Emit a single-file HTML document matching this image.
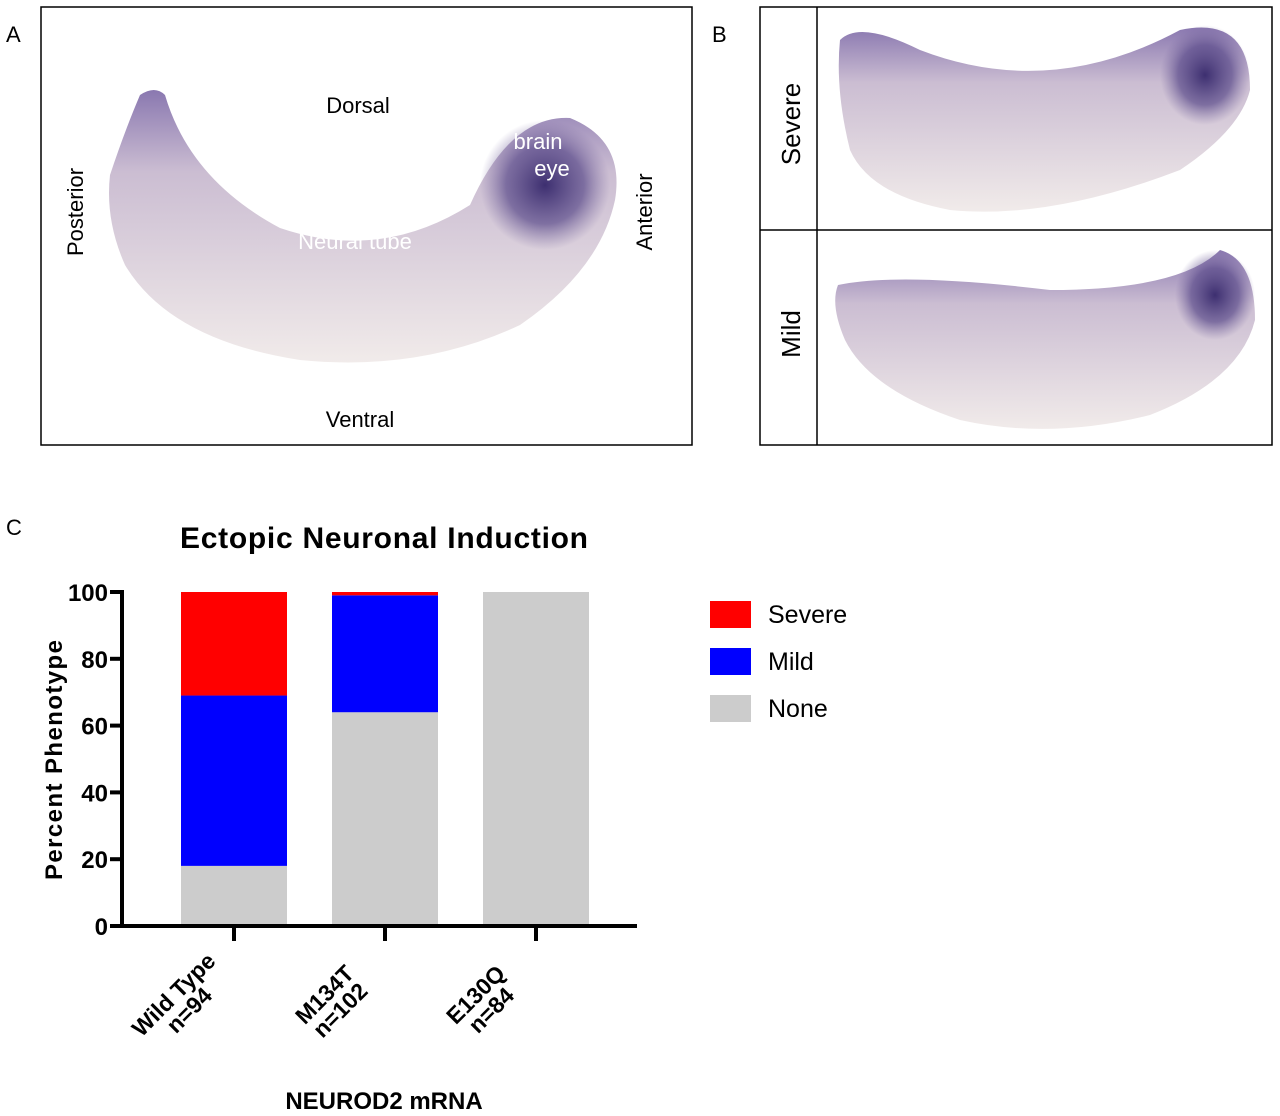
<!DOCTYPE html>
<html><head><meta charset="utf-8"><style>
body{margin:0;background:#fff;}
svg{display:block;font-family:"Liberation Sans",Arial,sans-serif;}
</style></head><body>
<svg width="1280" height="1116" viewBox="0 0 1280 1116">
<defs>
<linearGradient id="emb" x1="0" y1="0" x2="0" y2="1">
<stop offset="0" stop-color="#8a78b0"/><stop offset="0.3" stop-color="#cbbdd2"/><stop offset="1" stop-color="#f1ebea"/>
</linearGradient>
<radialGradient id="head" cx="0.5" cy="0.5" r="0.5">
<stop offset="0" stop-color="#3d2f70"/><stop offset="0.6" stop-color="#5a4a8a" stop-opacity="0.7"/><stop offset="1" stop-color="#7a6aa0" stop-opacity="0"/>
</radialGradient>
</defs>
<!-- Panel A -->
<text x="6" y="42" font-size="22">A</text>
<rect x="41" y="7" width="651" height="438" fill="none" stroke="#000" stroke-width="1.5"/>
<path d="M110 175 Q125 130 140 95 Q155 85 165 95 Q190 180 280 228 Q380 262 470 205 Q510 115 570 118 Q625 140 615 200 Q600 270 520 325 Q420 372 300 360 Q170 340 125 265 Q105 220 110 175Z" fill="url(#emb)"/>
<ellipse cx="545" cy="185" rx="65" ry="65" fill="url(#head)"/>
<text x="358" y="113" font-size="22" text-anchor="middle">Dorsal</text>
<text x="360" y="427" font-size="22" text-anchor="middle">Ventral</text>
<text x="355" y="249" font-size="22" text-anchor="middle" fill="#fff">Neural tube</text>
<text x="538" y="149" font-size="22" text-anchor="middle" fill="#fff">brain</text>
<text x="552" y="176" font-size="22" text-anchor="middle" fill="#fff">eye</text>
<text transform="translate(83,212) rotate(-90)" font-size="22" text-anchor="middle">Posterior</text>
<text transform="translate(652,212) rotate(-90)" font-size="22" text-anchor="middle">Anterior</text>
<!-- Panel B -->
<text x="712" y="42" font-size="22">B</text>
<rect x="760" y="7" width="512" height="438" fill="none" stroke="#000" stroke-width="1.5"/>
<line x1="817" y1="7" x2="817" y2="445" stroke="#000" stroke-width="1.5"/>
<line x1="760" y1="230" x2="1272" y2="230" stroke="#000" stroke-width="1.5"/>
<path d="M840 40 Q860 20 920 50 Q1050 100 1180 30 Q1250 15 1250 90 Q1240 130 1180 170 Q1050 220 950 210 Q870 195 850 150 Q835 90 840 40Z" fill="url(#emb)"/>
<path d="M838 285 Q900 272 1050 290 Q1180 290 1220 250 Q1255 260 1255 320 Q1240 380 1150 415 Q1050 440 960 420 Q870 390 845 340 Q830 305 838 285Z" fill="url(#emb)"/>
<ellipse cx="1205" cy="75" rx="45" ry="50" fill="url(#head)"/>
<ellipse cx="1215" cy="295" rx="40" ry="45" fill="url(#head)"/>
<text transform="translate(800,124) rotate(-90)" font-size="26" text-anchor="middle">Severe</text>
<text transform="translate(800,334) rotate(-90)" font-size="26" text-anchor="middle">Mild</text>
<!-- Panel C -->
<text x="6" y="535" font-size="22">C</text>
<text x="384" y="548" font-size="30" font-weight="bold" text-anchor="middle" textLength="408">Ectopic Neuronal Induction</text>
<g id="chart"></g>
<text transform="translate(62,760) rotate(-90)" font-size="24" font-weight="bold" text-anchor="middle" textLength="240">Percent Phenotype</text>
<text x="384" y="1109" font-size="24" font-weight="bold" text-anchor="middle">NEUROD2 mRNA</text>
<g>
<rect x="710" y="601" width="41" height="27" fill="#ff0000"/>
<text x="768" y="623" font-size="25">Severe</text>
<rect x="710" y="648" width="41" height="27" fill="#0000ff"/>
<text x="768" y="670" font-size="25">Mild</text>
<rect x="710" y="695" width="41" height="27" fill="#cccccc"/>
<text x="768" y="717" font-size="25">None</text>
</g>
</svg>
<script>
const categories = ["Wild Type", "M134T", "E130Q"];
const nLabels = ["n=94", "n=102", "n=84"];
const noneVals = [18, 64, 100];
const mildVals = [51, 35, 0];
const severeVals = [31, 1, 0];
const yTicks = [0, 20, 40, 60, 80, 100];
const NS = "http://www.w3.org/2000/svg";
const g = document.getElementById('chart');
const y0 = 926, y100 = 592, xAxis = 122, xEnd = 637;
const yScale = v => y0 - (v / 100) * (y0 - y100);
const xCenter = i => 234 + i * 151;
const barW = 106;
function mk(tag, attrs) { const e = document.createElementNS(NS, tag); for (const k in attrs) e.setAttribute(k, attrs[k]); g.appendChild(e); return e; }
categories.forEach((c, i) => {
  const segs = [[noneVals[i], '#cccccc', 'none'], [mildVals[i], '#0000ff', 'mild'], [severeVals[i], '#ff0000', 'severe']];
  let base = 0;
  segs.forEach(s => {
    if (s[0] > 0) {
      const r = mk('rect', { x: xCenter(i) - barW / 2, y: yScale(base + s[0]), width: barW, height: yScale(base) - yScale(base + s[0]), fill: s[1] });
      
      
    }
    base += s[0];
  });
  const t = mk('line', { x1: xCenter(i), x2: xCenter(i), y1: y0, y2: y0 + 15, stroke: '#000', 'stroke-width': 4 });
  
  
  const lg = mk('g', { transform: 'translate(' + (xCenter(i) - 52) + ',' + 1003 + ') rotate(-45)' });
  
  
  const t1 = document.createElementNS(NS, 'text');
  t1.setAttribute('text-anchor', 'middle'); t1.setAttribute('font-size', '23'); t1.setAttribute('font-weight', 'bold'); t1.setAttribute('y', '-4');
  t1.textContent = c; lg.appendChild(t1);
  const t2 = document.createElementNS(NS, 'text');
  t2.setAttribute('text-anchor', 'middle'); t2.setAttribute('font-size', '23'); t2.setAttribute('font-weight', 'bold'); t2.setAttribute('y', '18');
  t2.textContent = nLabels[i]; lg.appendChild(t2);
});
yTicks.forEach(v => {
  const l = mk('line', { x1: xAxis - 12, x2: xAxis, y1: yScale(v), y2: yScale(v), stroke: '#000', 'stroke-width': 4 });
  
  
  const t = mk('text', { x: xAxis - 14, y: yScale(v) + 9, 'text-anchor': 'end', 'font-size': 24, 'font-weight': 'bold' });
  t.textContent = v;
  
  
});
const ya = mk('line', { x1: xAxis, x2: xAxis, y1: y100 - 2, y2: y0 + 2, stroke: '#000', 'stroke-width': 4 });


const xa = mk('line', { x1: xAxis - 2, x2: xEnd, y1: y0, y2: y0, stroke: '#000', 'stroke-width': 4 });


</script>
</body></html>
